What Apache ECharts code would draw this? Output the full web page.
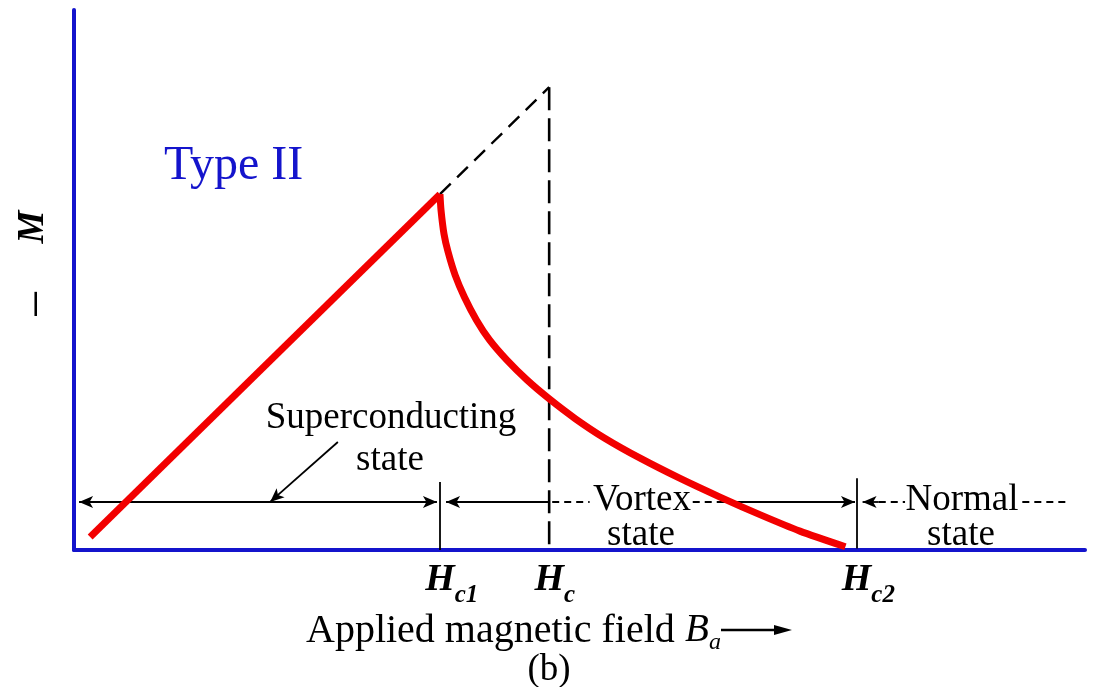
<!DOCTYPE html>
<html><head><meta charset="utf-8">
<script src="https://cdn.jsdelivr.net/npm/echarts@6/dist/echarts.min.js"></script>
<style>html,body{margin:0;padding:0;background:#fff}#c{width:1097px;height:687px}</style>
</head><body><div id="c"></div>
<script>
// ---- data (x: applied field, y: -M, arbitrary units 0..100) ----
const fieldTickValues = [36.2, 47.0, 77.4];
const fieldTickSubs = ['c1', 'c', 'c2'];
const meissnerB = [1.6, 36.2];
const meissnerM = [2.4, 65.9];
const vortexB = [36.2, 36.3, 36.6, 37.0, 37.7, 38.6, 39.8, 41.1, 42.8, 44.8, 47.0, 49.6, 52.5, 56.0, 59.9, 63.9, 67.9, 71.8, 76.3];
const vortexM = [65.9, 63.0, 58.5, 55.2, 50.9, 46.9, 42.6, 38.9, 35.2, 31.5, 28.0, 24.3, 20.7, 17.0, 13.3, 9.8, 6.5, 3.5, 0.6];
const idealB = [36.2, 47.0];
const idealM = [65.9, 85.7];
const hcDropB = [47.0, 47.0];
const hcDropM = [85.7, 0];

const zip = (a, b) => a.map((v, i) => [v, b[i]]);
const BLUE = '#1414cc';
const RED = '#f20000';
const SERIF = '"Liberation Serif", "Times New Roman", serif';

const chart = echarts.init(document.getElementById('c'), null, {renderer: 'canvas'});

const ROW = 8.9; // level of the state arrows
function seg(x1, y1, x2, y2, s1, s2, dashed) {
  return [
    {coord: [x1, y1], symbol: s1, symbolSize: [9, 14]},
    {coord: [x2, y2], symbol: s2, symbolSize: [9, 14],
     lineStyle: {type: dashed ? [7, 5] : 'solid'}}
  ];
}
const [hc1, hc, hc2] = fieldTickValues;
const guides = [
  seg(0.5, ROW, hc1 - 0.3, ROW, 'arrow', 'arrow'),
  seg(hc1 + 0.6, ROW, hc, ROW, 'arrow', 'none'),
  seg(hc + 0.3, ROW, 51.0, ROW, 'none', 'none', true),
  seg(61.2, ROW, 63.9, ROW, 'none', 'none', true),
  seg(63.7, ROW, hc2 - 0.15, ROW, 'none', 'arrow'),
  seg(hc2 + 0.6, ROW, 79.6, ROW, 'arrow', 'none'),
  seg(79.6, ROW, 82.2, ROW, 'none', 'none', true),
  seg(93.8, ROW, 98.5, ROW, 'none', 'none', true),
  seg(26.1, 20.0, 19.4, ROW, 'none', 'arrow'),
  seg(hc1, 12.6, hc1, 0, 'none', 'none'),
  seg(hc2, 13.3, hc2, 0.3, 'none', 'none')
];

const option = {
  animation: false,
  backgroundColor: '#fff',
  grid: {left: 74, right: 12, top: 10, bottom: 137},
  xAxis: {
    type: 'value', min: 0, max: 100,
    axisLine: {show: true, onZero: false, lineStyle: {color: BLUE, width: 4}},
    axisTick: {show: false},
    splitLine: {show: false},
    axisLabel: {
      customValues: fieldTickValues,
      margin: 11,
      formatter: function (v) {
        let i = 0, d = 1e9;
        fieldTickValues.forEach((t, k) => { if (Math.abs(t - v) < d) { d = Math.abs(t - v); i = k; } });
        const s = fieldTickSubs[i];
        return '{p|' + s + '}{H|H}{s|' + s + '}';
      },
      rich: {
        H: {fontFamily: SERIF, fontStyle: 'italic', fontWeight: 'bold', fontSize: 38, color: '#000', padding: [0, 0, 9, 0], verticalAlign: 'bottom'},
        s: {fontFamily: SERIF, fontStyle: 'italic', fontWeight: 'bold', fontSize: 25, color: '#000', verticalAlign: 'bottom'},
        p: {fontFamily: SERIF, fontStyle: 'italic', fontWeight: 'bold', fontSize: 25, color: 'rgba(0,0,0,0)', verticalAlign: 'bottom'}
      }
    }
  },
  yAxis: {
    type: 'value', min: 0, max: 100,
    axisLine: {show: true, lineStyle: {color: BLUE, width: 4}},
    axisTick: {show: false}, axisLabel: {show: false}, splitLine: {show: false}
  },
  series: [
    {
      name: 'guides', type: 'line', data: [], z: 2, silent: true,
      markLine: {
        silent: true, animation: false,
        label: {show: false},
        lineStyle: {color: '#000', width: 1.8, type: 'solid'},
        emphasis: {disabled: true},
        data: guides
      }
    },
    {
      name: 'ideal', type: 'line', data: zip(idealB, idealM), z: 3, silent: true,
      showSymbol: false, lineStyle: {color: '#000', width: 2.4, type: [15, 9]}
    },
    {
      name: 'hc', type: 'line', data: zip(hcDropB, hcDropM), z: 3, silent: true,
      showSymbol: false, lineStyle: {color: '#000', width: 2.6, type: [23, 8]}
    },
    {
      name: 'meissner', type: 'line', data: zip(meissnerB, meissnerM), z: 5, silent: true,
      showSymbol: false, lineStyle: {color: RED, width: 7, join: 'miter'}
    },
    {
      name: 'vortex', type: 'line', data: zip(vortexB, vortexM), z: 5, silent: true,
      showSymbol: false, smooth: 0.25, lineStyle: {color: RED, width: 7, join: 'miter'}
    }
  ],
  graphic: [
    {type: 'text', x: 164, y: 166, style: {text: 'Type II', font: '48px ' + SERIF, fill: BLUE, textAlign: 'left', textVerticalAlign: 'middle'}},
    {type: 'text', x: 33, y: 227, rotation: Math.PI / 2, style: {text: 'M', font: 'italic bold 37px ' + SERIF, fill: '#000', textAlign: 'center', textVerticalAlign: 'middle'}},
    {type: 'text', x: 39, y: 304, rotation: Math.PI / 2, style: {text: '\u2212', font: '52px ' + SERIF, fill: '#000', textAlign: 'center', textVerticalAlign: 'middle'}},
    {type: 'text', x: 391, y: 418, style: {text: 'Superconducting', font: '37px ' + SERIF, fill: '#000', textAlign: 'center', textVerticalAlign: 'middle'}},
    {type: 'text', x: 390, y: 460, style: {text: 'state', font: '37px ' + SERIF, fill: '#000', textAlign: 'center', textVerticalAlign: 'middle'}},
    {type: 'text', x: 642, y: 500, style: {text: 'Vortex', font: '37px ' + SERIF, fill: '#000', textAlign: 'center', textVerticalAlign: 'middle'}},
    {type: 'text', x: 641, y: 535, style: {text: 'state', font: '37px ' + SERIF, fill: '#000', textAlign: 'center', textVerticalAlign: 'middle'}},
    {type: 'text', x: 962, y: 500, style: {text: 'Normal', font: '37px ' + SERIF, fill: '#000', textAlign: 'center', textVerticalAlign: 'middle'}},
    {type: 'text', x: 961, y: 535, style: {text: 'state', font: '37px ' + SERIF, fill: '#000', textAlign: 'center', textVerticalAlign: 'middle'}},
    {type: 'text', x: 306, y: 631, style: {text: 'Applied magnetic field', font: '40px ' + SERIF, fill: '#000', textAlign: 'left', textVerticalAlign: 'middle'}},
    {type: 'text', x: 685, y: 631, style: {text: 'B', font: 'italic 39px ' + SERIF, fill: '#000', textAlign: 'left', textVerticalAlign: 'middle'}},
    {type: 'text', x: 709, y: 643, style: {text: 'a', font: 'italic 24px ' + SERIF, fill: '#000', textAlign: 'left', textVerticalAlign: 'middle'}},
    {type: 'line', shape: {x1: 721, y1: 630, x2: 782, y2: 630}, style: {stroke: '#000', lineWidth: 2.5}},
    {type: 'polygon', shape: {points: [[774, 625], [792, 630], [774, 635]]}, style: {fill: '#000'}},
    {type: 'text', x: 549, y: 670, style: {text: '(b)', font: '37px ' + SERIF, fill: '#000', textAlign: 'center', textVerticalAlign: 'middle'}}
  ]
};
chart.setOption(option);
</script>
</body></html>
